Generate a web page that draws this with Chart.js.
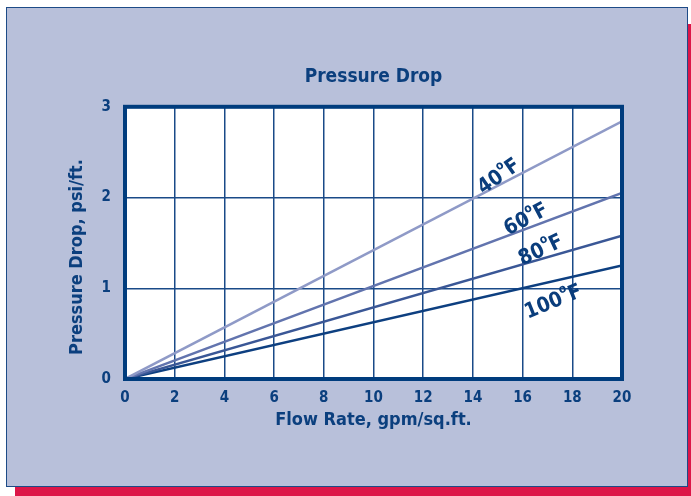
<!DOCTYPE html>
<html lang="en">
<head>
<meta charset="UTF-8">
<title>Pressure Drop</title>
<script src="https://cdn.jsdelivr.net/npm/chart.js"></script>
<style>
  html, body { margin: 0; padding: 0; background: #fff; }
  .wrap { position: relative; width: 691px; height: 496px; overflow: hidden; }
  .shadow { position: absolute; left: 15px; top: 24px; width: 676px; height: 472px; background: #dc1648; }
  .panel { position: absolute; left: 6px; top: 7px; width: 680px; height: 478px; background: #b8c0da; border: 1px solid #1d4b87; }
  canvas { position: absolute; left: 0; top: 0; }
</style>
</head>
<body>
<div class="wrap">
  <div class="shadow"></div>
  <div class="panel"></div>
  <canvas id="myChart" width="691" height="496"></canvas>
</div>

<script>
// flow rate (gpm/sq.ft.) and pressure drop (psi/ft.) per water temperature
const flowRate = [0, 20];
const drop40F = [0, 2.84];
const drop60F = [0, 2.05];
const drop80F = [0, 1.58];
const drop100F = [0, 1.25];
const tempLabels = ['40', '60', '80', '100'];
const xTicks = [0, 2, 4, 6, 8, 10, 12, 14, 16, 18, 20];
const yTicks = [0, 1, 2, 3];

const navy = '#0b3f7e';
const fontFam = "'Liberation Sans Narrow', 'DejaVu Sans Condensed', 'Roboto Condensed', sans-serif";

function pts(ys) {
    return flowRate.map((x, i) => ({ x: x, y: ys[i] }));
}

// white plot area + heavy frame
const framePlugin = {
    id: 'frame',
    beforeDraw(chart) {
        const a = chart.chartArea, ctx = chart.ctx;
        ctx.save();
        ctx.fillStyle = '#fff';
        ctx.fillRect(a.left, a.top, a.right - a.left, a.bottom - a.top);
        ctx.restore();
    },
    afterDraw(chart) {
        const a = chart.chartArea, ctx = chart.ctx;
        ctx.save();
        ctx.strokeStyle = '#003c7d';
        ctx.lineWidth = 4;
        ctx.strokeRect(a.left, a.top, a.right - a.left, a.bottom - a.top);
        ctx.restore();
    }
};

// rotated "40°F" style labels next to each line
const tempLabelPlugin = {
    id: 'tempLabels',
    afterDatasetsDraw(chart, args, opts) {
        const ctx = chart.ctx, xs = chart.scales.x, ys = chart.scales.y;
        opts.items.forEach((it, i) => {
            const px = xs.getPixelForValue(it.x);
            const py = ys.getPixelForValue(it.y);
            ctx.save();
            ctx.translate(px, py);
            ctx.rotate(it.angle * Math.PI / 180);
            ctx.fillStyle = '#0a3d7c';
            ctx.textBaseline = 'alphabetic';
            ctx.font = 'bold 21px ' + fontFam;
            const num = tempLabels[i];
            const w1 = ctx.measureText(num).width;
            ctx.font = 'bold 12px ' + fontFam;
            const w2 = ctx.measureText('o').width;
            ctx.font = 'bold 21px ' + fontFam;
            const w3 = ctx.measureText('F').width;
            const total = w1 + w2 + w3;
            let x0 = -total / 2;
            ctx.fillText(num, x0, 8);
            ctx.font = 'bold 12px ' + fontFam;
            ctx.fillText('o', x0 + w1, -3);
            ctx.font = 'bold 21px ' + fontFam;
            ctx.fillText('F', x0 + w1 + w2, 8);
            ctx.restore();
        });
    }
};

function lineSet(label, ys, color) {
    return {
        label: label,
        data: pts(ys),
        borderColor: color,
        borderWidth: 2.5,
        pointRadius: 0,
        tension: 0,
        fill: false
    };
}

const ctx = document.getElementById('myChart').getContext('2d');
const chart = new Chart(ctx, {
    type: 'line',
    data: {
        datasets: [
            lineSet('40°F', drop40F, '#8f9ac7'),
            lineSet('60°F', drop60F, '#6274ae'),
            lineSet('80°F', drop80F, '#3a5796'),
            lineSet('100°F', drop100F, '#0d3f80')
        ]
    },
    options: {
        responsive: false,
        animation: false,
        devicePixelRatio: 1,
        layout: { padding: { left: 66, right: 69, top: 0, bottom: 65 } },
        plugins: {
            legend: { display: false },
            tooltip: { enabled: false },
            title: {
                display: true,
                text: 'Pressure Drop',
                color: navy,
                fullSize: false,
                font: { family: fontFam, size: 19, weight: 'bold' },
                padding: { top: 66, bottom: 18 }
            },
            tempLabels: {
                items: [
                    { x: 15.0, y: 2.25, angle: -35 },
                    { x: 16.1, y: 1.78, angle: -28 },
                    { x: 16.7, y: 1.44, angle: -25 },
                    { x: 17.2, y: 0.87, angle: -22 }
                ]
            }
        },
        scales: {
            x: {
                type: 'linear',
                min: 0,
                max: 20,
                afterBuildTicks(scale) { scale.ticks = xTicks.map(v => ({ value: v })); },
                afterFit(scale) { scale.height = 52; },
                grid: { color: '#1a4a88', lineWidth: 1.5, drawTicks: false },
                border: { display: false },
                ticks: {
                    color: navy,
                    padding: 10,
                    maxRotation: 0,
                    font: { family: fontFam, size: 15, weight: 'bold' }
                },
                title: {
                    display: true,
                    text: 'Flow Rate, gpm/sq.ft.',
                    color: navy,
                    padding: 0,
                    font: { family: fontFam, size: 18, weight: 'bold' }
                }
            },
            y: {
                type: 'linear',
                min: 0,
                max: 3,
                afterBuildTicks(scale) { scale.ticks = yTicks.map(v => ({ value: v })); },
                afterFit(scale) { scale.width = 59; },
                grid: { color: '#1a4a88', lineWidth: 1.5, drawTicks: false },
                border: { display: false },
                ticks: {
                    color: navy,
                    padding: 14,
                    font: { family: fontFam, size: 15, weight: 'bold' }
                },
                title: {
                    display: true,
                    // trailing spaces nudge the centred title down, as in the source
                    text: 'Pressure Drop, psi/ft.     ',
                    color: navy,
                    padding: 1,
                    font: { family: fontFam, size: 18, weight: 'bold' }
                }
            }
        }
    },
    plugins: [framePlugin, tempLabelPlugin]
});
</script>
</body>
</html>
